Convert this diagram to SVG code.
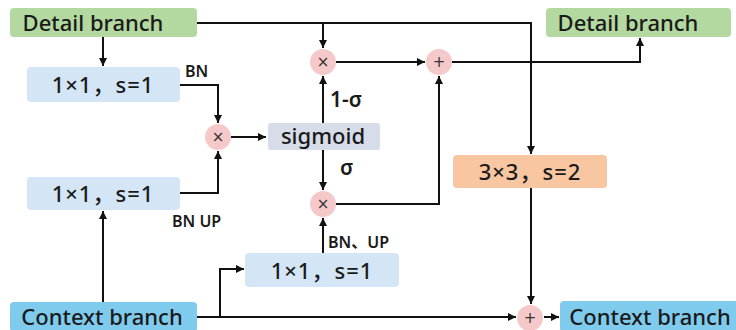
<svg xmlns="http://www.w3.org/2000/svg" width="736" height="330" viewBox="0 0 736 330">
<defs>
<marker id="arr" markerWidth="8" markerHeight="8" refX="8" refY="4" orient="auto" markerUnits="userSpaceOnUse">
<path d="M0,0 L8,4 L0,8 Z" fill="#111"/>
</marker>
<style>
.lbl{font-family:"Noto Sans","Noto Sans CJK SC",sans-serif;fill:#1a1a1a;text-anchor:middle}
.big{font-size:22px;font-weight:500}
.conv{font-size:22px;font-weight:500;letter-spacing:1px}
.small{font-size:16px;font-weight:600;text-anchor:start}
.greek{font-size:21px;font-weight:600;text-anchor:start}
.op{font-family:"DejaVu Sans",sans-serif;font-size:15px;fill:#333;text-anchor:middle}
.green{fill:#b3d9a0}
.lblue{fill:#d4e6f6}
.cblue{fill:#7fcbee}
.peach{fill:#f8c6a0}
.gray{fill:#d6dde9}
.circ{fill:#f5c9c9}
.conn path{fill:none;stroke:#111;stroke-width:2}
</style>
</defs>
<rect width="736" height="330" fill="#fff"/>

<g class="conn">
<path d="M103,37 V66" marker-end="url(#arr)"/>
<path d="M197,23 H531 V154" marker-end="url(#arr)"/>
<path d="M323,23 V48" marker-end="url(#arr)"/>
<path d="M180,85 H218 V123" marker-end="url(#arr)"/>
<path d="M180,193 H218 V151" marker-end="url(#arr)"/>
<path d="M231,137 H266" marker-end="url(#arr)"/>
<path d="M323,123 V76" marker-end="url(#arr)"/>
<path d="M323,150 V190" marker-end="url(#arr)"/>
<path d="M336,62 H425" marker-end="url(#arr)"/>
<path d="M336,204 H439 V76" marker-end="url(#arr)"/>
<path d="M452,62 H640 V38" marker-end="url(#arr)"/>
<path d="M103,302 V211" marker-end="url(#arr)"/>
<path d="M197,317 H516" marker-end="url(#arr)"/>
<path d="M220,317 V269 H244" marker-end="url(#arr)"/>
<path d="M323,253 V218" marker-end="url(#arr)"/>
<path d="M531,188 V304" marker-end="url(#arr)"/>
<path d="M544,317 H559" marker-end="url(#arr)"/>
</g>

<g id="detail-in"><rect class="green" x="10" y="8" width="187" height="29" rx="4"/><text class="lbl big" x="93" y="31">Detail branch</text></g>
<g id="detail-out"><rect class="green" x="546" y="8" width="185" height="29" rx="4"/><text class="lbl big" x="628" y="31">Detail branch</text></g>
<g id="context-in"><rect class="cblue" x="10" y="302" width="187" height="30" rx="4"/><text class="lbl big" x="102" y="325">Context branch</text></g>
<g id="context-out"><rect class="cblue" x="560" y="301" width="180" height="31" rx="4"/><text class="lbl big" x="650" y="325">Context branch</text></g>

<g id="conv-top"><rect class="lblue" x="27" y="67" width="153" height="35" rx="4"/><text class="lbl conv" x="103" y="93">1×1，s=1</text></g>
<g id="conv-mid"><rect class="lblue" x="27" y="177" width="153" height="33" rx="4"/><text class="lbl conv" x="103" y="202">1×1，s=1</text></g>
<g id="conv-low"><rect class="lblue" x="245" y="253" width="154" height="34" rx="4"/><text class="lbl conv" x="322" y="279">1×1，s=1</text></g>
<g id="conv3"><rect class="peach" x="453" y="155" width="154" height="33" rx="4"/><text class="lbl conv" x="530" y="180">3×3，s=2</text></g>
<g id="sigmoid"><rect class="gray" x="268" y="123" width="112" height="27" rx="3"/><text class="lbl big" x="323" y="144">sigmoid</text></g>

<g id="mul1"><circle class="circ" cx="218" cy="137" r="13"/><text class="op" x="218" y="142">×</text></g>
<g id="mul-top"><circle class="circ" cx="323" cy="62" r="13"/><text class="op" x="323" y="67">×</text></g>
<g id="mul-low"><circle class="circ" cx="323" cy="204" r="13"/><text class="op" x="323" y="209">×</text></g>
<g id="add-top"><circle class="circ" cx="439" cy="62" r="13"/><text class="op" x="439" y="67">+</text></g>
<g id="add-bot"><circle class="circ" cx="530" cy="318" r="13"/><text class="op" x="530" y="323">+</text></g>

<g id="labels">
<text class="lbl small" x="185" y="77">BN</text>
<text class="lbl small" x="172" y="227">BN UP</text>
<text class="lbl small" x="328" y="248">BN、UP</text>
<text class="lbl greek" x="330" y="107">1-σ</text>
<text class="lbl greek" x="340" y="175">σ</text>
</g>
</svg>
